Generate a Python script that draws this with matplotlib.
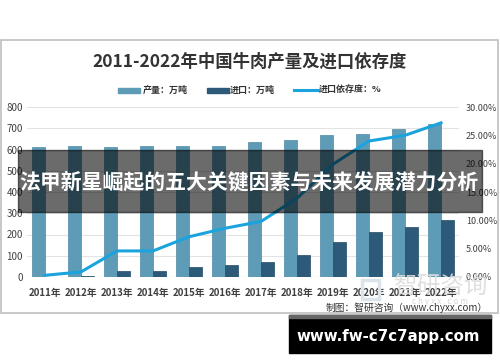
import numpy as np
import matplotlib
matplotlib.use("Agg")
import matplotlib.pyplot as plt
from matplotlib.patches import Rectangle

plt.rcParams['font.family'] = ['Noto Sans CJK SC', 'DejaVu Sans']

# data
years = ['2011年', '2012年', '2013年', '2014年', '2015年', '2016年',
         '2017年', '2018年', '2019年', '2020年', '2021年', '2022年']
production = [610, 615, 613, 616, 617, 617, 635, 644, 667, 672, 698, 718]
imports = [2, 6, 29, 30, 47, 58, 70, 104, 166, 212, 233, 269]
dependency = [0.3, 0.9, 4.6, 4.6, 7.1, 8.6, 9.8, 13.9, 19.9, 24.0, 25.0, 27.2]
left_ticks = [0, 100, 200, 300, 400, 500, 600, 700, 800]
right_ticks = [0, 5, 10, 15, 20, 25, 30]

W, H = 500, 362
fig = plt.figure(figsize=(W / 100, H / 100), dpi=100)

def fx(px):
    return px / W

def fy(py):
    return 1 - py / H

# chart frame
fig.patches.append(Rectangle((fx(1), fy(313)), fx(497), 273 / H, transform=fig.transFigure,
                             fill=False, edgecolor='#bfbfbf', lw=1.2, zorder=0))

ax = fig.add_axes([fx(27), fy(277), fx(432), (277 - 107) / H])
x = np.arange(len(years))
bw = 0.36
ax.bar(x - bw / 2, production, bw, color='#5e9bb7', edgecolor='#4f8aa6', lw=0.5, zorder=2)
ax.bar(x + bw / 2, imports, bw, color='#2d5a78', edgecolor='#244b66', lw=0.5, zorder=2)
ax.set_ylim(0, 800)
ax.set_xlim(-0.5, len(years) - 0.5)
ax.set_yticks(left_ticks)
ax.set_yticklabels([str(v) for v in left_ticks], fontsize=7, color='#404040')
ax.set_xticks(x)
ax.set_xticklabels(years, fontsize=7, color='#404040', fontweight='bold')
ax.grid(axis='y', color='#e3e3e3', lw=0.8, zorder=0)
ax.tick_params(length=0, pad=3)
ax.tick_params(axis='x', pad=8)
for s in ax.spines.values():
    s.set_visible(False)
ax.axhline(0, color='#d0d0d0', lw=0.8, zorder=1)

ax2 = ax.twinx()
ax2.plot(x, dependency, color='#1ba3dd', lw=2.2, zorder=3)
ax2.set_ylim(0, 30)
ax2.set_yticks(right_ticks)
ax2.set_yticklabels(['%.2f%%' % v for v in right_ticks], fontsize=6.5, color='#404040')
ax2.tick_params(length=0, pad=5)
for s in ax2.spines.values():
    s.set_visible(False)

# title and legend
fig.text(fx(250), fy(62), '2011-2022年中国牛肉产量及进口依存度', ha='center', va='center',
         fontsize=12.5, fontweight='bold', color='#333333')
ly = fy(90)
fig.patches.append(Rectangle((fx(118), ly - 2.5 / H), fx(22), 5 / H, transform=fig.transFigure,
                             color='#5e9bb7'))
fig.text(fx(143), ly, '产量：万吨', va='center', fontsize=6.5, fontweight='bold', color='#333333')
fig.patches.append(Rectangle((fx(207), ly - 2.5 / H), fx(22), 5 / H, transform=fig.transFigure,
                             color='#2d5a78'))
fig.text(fx(230), ly, '进口：万吨', va='center', fontsize=6.5, fontweight='bold', color='#333333')
fig.lines.append(plt.Line2D([fx(294), fx(318)], [ly, ly], transform=fig.transFigure,
                            color='#1ba3dd', lw=2.2))
fig.text(fx(319), ly, '进口依存度：%', va='center', fontsize=6.5, fontweight='bold', color='#333333')

# watermark and source
fig.patches.append(Rectangle((fx(362), fy(299)), fx(17), 19 / H, transform=fig.transFigure,
                             fill=False, edgecolor='#dde3ea', lw=2.5))
fig.text(fx(440), fy(287), '智研咨询', ha='center', va='center', fontsize=17,
         color='#dcdcdc', alpha=0.9)
fig.text(fx(440), fy(301), 'c h y x x . c o m', ha='center', va='center', fontsize=6,
         color='#d8d8d8')
fig.text(fx(488), fy(308), '制图：智研咨询（www.chyxx.com）', ha='right', va='center',
         fontsize=7, color='#333333')

# overlay band with headline
fig.patches.append(Rectangle((fx(18), fy(212)), fx(464), 62 / H, transform=fig.transFigure,
                             color='#000000', alpha=0.58, zorder=10))
fig.text(fx(249), fy(182), '法甲新星崛起的五大关键因素与未来发展潜力分析', ha='center', va='center',
         fontsize=15, fontweight='bold', color='white', zorder=11)

# url box
fig.patches.append(Rectangle((fx(289), fy(353)), fx(202), 38 / H, transform=fig.transFigure,
                             color='#000000', zorder=10))
fig.patches.append(Rectangle((fx(289), fy(318)), fx(202), 3 / H, transform=fig.transFigure,
                             color='#666666', zorder=11))
fig.text(fx(388), fy(336), 'www.fw-c7c7app.com', ha='center', va='center',
         fontsize=10.8, fontweight='bold', color='white', family='DejaVu Sans', zorder=12)

fig.savefig('out.png', dpi=100)
